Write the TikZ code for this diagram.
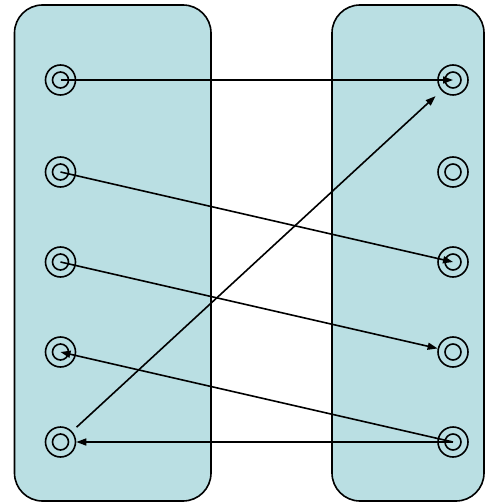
\documentclass[tikz,border=0pt]{standalone}
\usetikzlibrary{arrows.meta}
\definecolor{panel}{RGB}{186,223,227}
\begin{document}
\begin{tikzpicture}[x=1pt,y=-1pt,
  panelbox/.style={draw=black,line width=1.6pt,fill=panel,rounded corners=28pt},
  port/.style={circle,draw=black,line width=1.6pt,minimum size=30pt,inner sep=0pt,
    path picture={\draw[line width=1.6pt] (path picture bounding box.center) circle (8pt);}},
  link/.style={line width=1.6pt,-{Triangle[length=10pt,width=7pt]}}]
\useasboundingbox (0,0) rectangle (485,502);
\draw[panelbox] (14.5,5) rectangle (211,501);
\draw[panelbox] (332,5) rectangle (484,501);
\foreach \i/\y in {1/80,2/172,3/262,4/352,5/442}{
  \node[port] (L\i) at (60.5,\y) {};
  \node[port] (R\i) at (453,\y) {};
}
\draw[link] (L1.center) -- (R1.center);
\draw[link] (L2.center) -- (R3.center);
\draw[link] (L3.center) -- (R4);
\draw[link] (R5.center) -- (L4.center);
\draw[link] (R5.center) -- (L5);
\draw[link,shorten <=6pt,shorten >=8pt] (L5) -- (R1);
\end{tikzpicture}
\end{document}
